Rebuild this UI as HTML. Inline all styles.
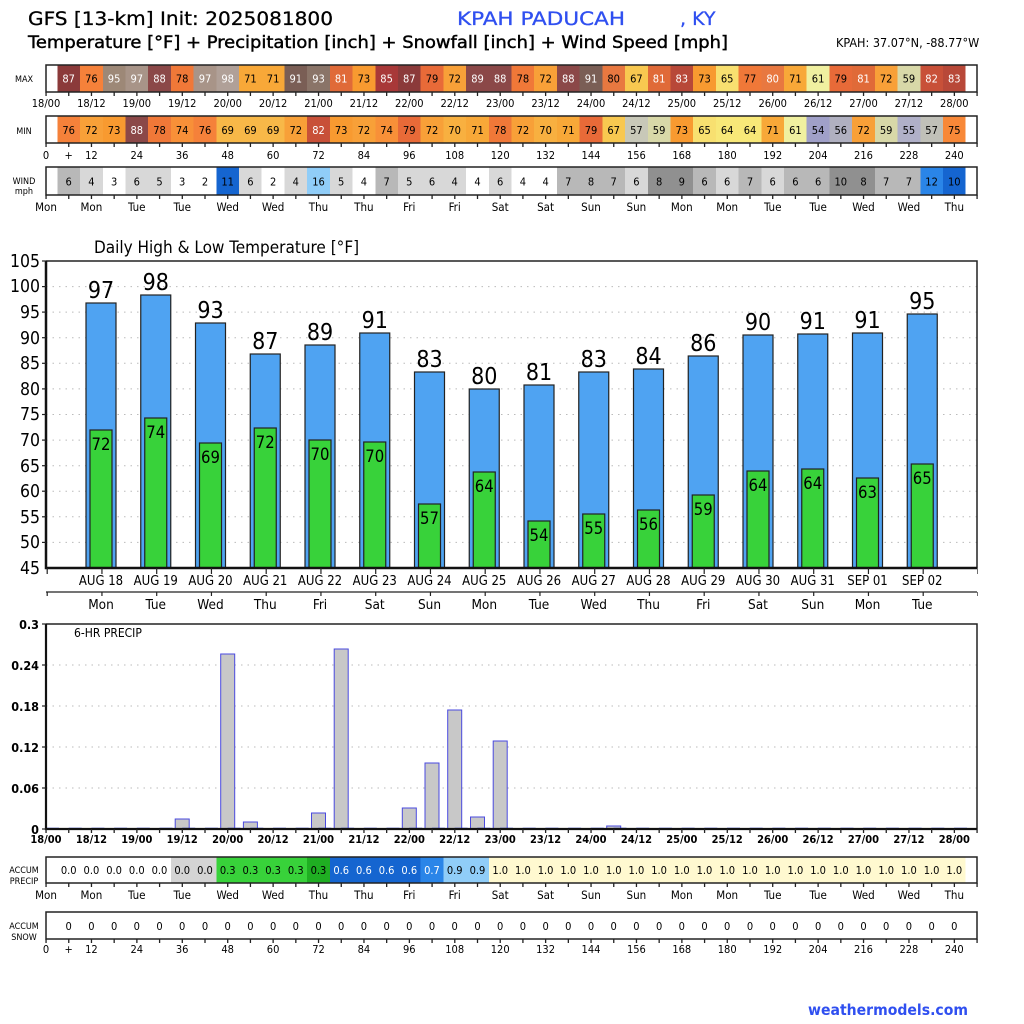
<!DOCTYPE html>
<html><head><meta charset="utf-8"><style>
body{margin:0;background:#fff}
svg{display:block}
text{font-family:"DejaVu Sans Condensed","DejaVu Sans","Liberation Sans",sans-serif}
.h{font-family:"DejaVu Sans","Liberation Sans",sans-serif}
</style></head><body>
<svg width="1024" height="1024" viewBox="0 0 1024 1024" xmlns="http://www.w3.org/2000/svg">
<!-- header -->
<text class="h" x="28" y="25" font-size="19" stroke="#000" stroke-width="0.3" textLength="305" lengthAdjust="spacingAndGlyphs">GFS [13-km] Init: 2025081800</text>
<text class="h" x="457" y="25" font-size="19" fill="#2f4ff0" stroke="#2f4ff0" stroke-width="0.3" textLength="168" lengthAdjust="spacingAndGlyphs">KPAH PADUCAH</text>
<text class="h" x="680" y="25" font-size="19" fill="#2f4ff0" stroke="#2f4ff0" stroke-width="0.3">, KY</text>
<text class="h" x="28" y="48" font-size="17" stroke="#000" stroke-width="0.45" textLength="700" lengthAdjust="spacingAndGlyphs">Temperature [°F] + Precipitation [inch] + Snowfall [inch] + Wind Speed [mph]</text>
<text x="836" y="47" font-size="12.5">KPAH: 37.07°N, -88.77°W</text>

<!-- row labels -->
<g font-size="9" text-anchor="middle">
<text x="24" y="82">MAX</text>
<text x="24" y="134">MIN</text>
<text x="24" y="184">WIND</text><text x="24" y="194">mph</text>
<text x="24" y="873">ACCUM</text><text x="24" y="884">PRECIP</text>
<text x="24" y="929">ACCUM</text><text x="24" y="940">SNOW</text>
</g>

<!-- MAX strip -->
<g transform="translate(34.646,65) scale(22.708,1)" shape-rendering="crispEdges">
<rect x="1" width="1" height="27" fill="#8b3a3a"/><rect x="2" width="1" height="27" fill="#f5813a"/><rect x="3" width="1" height="27" fill="#9d8877"/><rect x="4" width="1" height="27" fill="#a89488"/><rect x="5" width="1" height="27" fill="#8b4848"/><rect x="6" width="1" height="27" fill="#f07838"/><rect x="7" width="1" height="27" fill="#a89488"/><rect x="8" width="1" height="27" fill="#b0a098"/><rect x="9" width="1" height="27" fill="#f8a838"/><rect x="10" width="1" height="27" fill="#f8a838"/><rect x="11" width="1" height="27" fill="#7a5e55"/><rect x="12" width="1" height="27" fill="#8a7468"/><rect x="13" width="1" height="27" fill="#e06a38"/><rect x="14" width="1" height="27" fill="#f89a30"/><rect x="15" width="1" height="27" fill="#a83838"/><rect x="16" width="1" height="27" fill="#8b3a3a"/><rect x="17" width="1" height="27" fill="#e86a38"/><rect x="18" width="1" height="27" fill="#f8a038"/><rect x="19" width="1" height="27" fill="#8b4848"/><rect x="20" width="1" height="27" fill="#8b4848"/><rect x="21" width="1" height="27" fill="#f07838"/><rect x="22" width="1" height="27" fill="#f8a038"/><rect x="23" width="1" height="27" fill="#8b4848"/><rect x="24" width="1" height="27" fill="#7a5e55"/><rect x="25" width="1" height="27" fill="#e87840"/><rect x="26" width="1" height="27" fill="#f8c850"/><rect x="27" width="1" height="27" fill="#e06a38"/><rect x="28" width="1" height="27" fill="#b84838"/><rect x="29" width="1" height="27" fill="#f89a30"/><rect x="30" width="1" height="27" fill="#f8e070"/><rect x="31" width="1" height="27" fill="#f07838"/><rect x="32" width="1" height="27" fill="#e87840"/><rect x="33" width="1" height="27" fill="#f8a838"/><rect x="34" width="1" height="27" fill="#f0f0a0"/><rect x="35" width="1" height="27" fill="#e86a38"/><rect x="36" width="1" height="27" fill="#e06a38"/><rect x="37" width="1" height="27" fill="#f8a038"/><rect x="38" width="1" height="27" fill="#d8d8a8"/><rect x="39" width="1" height="27" fill="#c85038"/><rect x="40" width="1" height="27" fill="#b84838"/>
</g>
<text y="82.5" text-anchor="middle" font-size="11"><tspan x="68.7" fill="#fff">87</tspan><tspan x="91.4" fill="#000">76</tspan><tspan x="114.1" fill="#fff">95</tspan><tspan x="136.8" fill="#fff">97</tspan><tspan x="159.5" fill="#fff">88</tspan><tspan x="182.2" fill="#000">78</tspan><tspan x="205" fill="#fff">97</tspan><tspan x="227.7" fill="#fff">98</tspan><tspan x="250.4" fill="#000">71</tspan><tspan x="273.1">71</tspan><tspan x="295.8" fill="#fff">91</tspan><tspan x="318.5" fill="#fff">93</tspan><tspan x="341.2" fill="#fff">81</tspan><tspan x="363.9" fill="#000">73</tspan><tspan x="386.6" fill="#fff">85</tspan><tspan x="409.3" fill="#fff">87</tspan><tspan x="432" fill="#000">79</tspan><tspan x="454.7">72</tspan><tspan x="477.5" fill="#fff">89</tspan><tspan x="500.2" fill="#fff">88</tspan><tspan x="522.9" fill="#000">78</tspan><tspan x="545.6">72</tspan><tspan x="568.3" fill="#fff">88</tspan><tspan x="591" fill="#fff">91</tspan><tspan x="613.7" fill="#000">80</tspan><tspan x="636.4">67</tspan><tspan x="659.1" fill="#fff">81</tspan><tspan x="681.8" fill="#fff">83</tspan><tspan x="704.5" fill="#000">73</tspan><tspan x="727.2">65</tspan><tspan x="750">77</tspan><tspan x="772.7" fill="#fff">80</tspan><tspan x="795.4" fill="#000">71</tspan><tspan x="818.1">61</tspan><tspan x="840.8">79</tspan><tspan x="863.5" fill="#fff">81</tspan><tspan x="886.2" fill="#000">72</tspan><tspan x="908.9">59</tspan><tspan x="931.6" fill="#fff">82</tspan><tspan x="954.3" fill="#fff">83</tspan></text>
<rect x="46" y="65" width="931" height="27" fill="none" stroke="#222" stroke-width="1.5"/>
<line x1="45.4" y1="94" x2="978" y2="94" stroke="#222" stroke-width="4" stroke-dasharray="1.3 21.408"/>
<text y="107" text-anchor="middle" font-size="11"><tspan x="46">18/00</tspan><tspan x="91.4">18/12</tspan><tspan x="136.8">19/00</tspan><tspan x="182.2">19/12</tspan><tspan x="227.7">20/00</tspan><tspan x="273.1">20/12</tspan><tspan x="318.5">21/00</tspan><tspan x="363.9">21/12</tspan><tspan x="409.3">22/00</tspan><tspan x="454.7">22/12</tspan><tspan x="500.2">23/00</tspan><tspan x="545.6">23/12</tspan><tspan x="591">24/00</tspan><tspan x="636.4">24/12</tspan><tspan x="681.8">25/00</tspan><tspan x="727.2">25/12</tspan><tspan x="772.7">26/00</tspan><tspan x="818.1">26/12</tspan><tspan x="863.5">27/00</tspan><tspan x="908.9">27/12</tspan><tspan x="954.3">28/00</tspan></text>

<!-- MIN strip -->
<g transform="translate(34.646,116) scale(22.708,1)" shape-rendering="crispEdges">
<rect x="1" width="1" height="27" fill="#f5813a"/><rect x="2" width="1" height="27" fill="#f8a038"/><rect x="3" width="1" height="27" fill="#f89a30"/><rect x="4" width="1" height="27" fill="#8b4848"/><rect x="5" width="1" height="27" fill="#f07838"/><rect x="6" width="1" height="27" fill="#f89038"/><rect x="7" width="1" height="27" fill="#f5813a"/><rect x="8" width="1" height="27" fill="#f8b848"/><rect x="9" width="1" height="27" fill="#f8b848"/><rect x="10" width="1" height="27" fill="#f8b848"/><rect x="11" width="1" height="27" fill="#f8a038"/><rect x="12" width="1" height="27" fill="#c85038"/><rect x="13" width="1" height="27" fill="#f89a30"/><rect x="14" width="1" height="27" fill="#f8a038"/><rect x="15" width="1" height="27" fill="#f89038"/><rect x="16" width="1" height="27" fill="#e86a38"/><rect x="17" width="1" height="27" fill="#f8a038"/><rect x="18" width="1" height="27" fill="#f8b040"/><rect x="19" width="1" height="27" fill="#f8a838"/><rect x="20" width="1" height="27" fill="#f07838"/><rect x="21" width="1" height="27" fill="#f8a038"/><rect x="22" width="1" height="27" fill="#f8b040"/><rect x="23" width="1" height="27" fill="#f8a838"/><rect x="24" width="1" height="27" fill="#e86a38"/><rect x="25" width="1" height="27" fill="#f8c850"/><rect x="26" width="1" height="27" fill="#c8c8b8"/><rect x="27" width="1" height="27" fill="#d8d8a8"/><rect x="28" width="1" height="27" fill="#f89a30"/><rect x="29" width="1" height="27" fill="#f8e070"/><rect x="30" width="1" height="27" fill="#f8e878"/><rect x="31" width="1" height="27" fill="#f8e878"/><rect x="32" width="1" height="27" fill="#f8a838"/><rect x="33" width="1" height="27" fill="#f0f0a0"/><rect x="34" width="1" height="27" fill="#a0a0c8"/><rect x="35" width="1" height="27" fill="#b0b0c0"/><rect x="36" width="1" height="27" fill="#f8a038"/><rect x="37" width="1" height="27" fill="#d8d8a8"/><rect x="38" width="1" height="27" fill="#b0b0c8"/><rect x="39" width="1" height="27" fill="#c0c0b8"/><rect x="40" width="1" height="27" fill="#f88838"/>
</g>
<text y="134" text-anchor="middle" font-size="11"><tspan x="68.7">76</tspan><tspan x="91.4">72</tspan><tspan x="114.1">73</tspan><tspan x="136.8" fill="#fff">88</tspan><tspan x="159.5" fill="#000">78</tspan><tspan x="182.2">74</tspan><tspan x="205">76</tspan><tspan x="227.7">69</tspan><tspan x="250.4">69</tspan><tspan x="273.1">69</tspan><tspan x="295.8">72</tspan><tspan x="318.5" fill="#fff">82</tspan><tspan x="341.2" fill="#000">73</tspan><tspan x="363.9">72</tspan><tspan x="386.6">74</tspan><tspan x="409.3">79</tspan><tspan x="432">72</tspan><tspan x="454.7">70</tspan><tspan x="477.5">71</tspan><tspan x="500.2">78</tspan><tspan x="522.9">72</tspan><tspan x="545.6">70</tspan><tspan x="568.3">71</tspan><tspan x="591">79</tspan><tspan x="613.7">67</tspan><tspan x="636.4">57</tspan><tspan x="659.1">59</tspan><tspan x="681.8">73</tspan><tspan x="704.5">65</tspan><tspan x="727.2">64</tspan><tspan x="750">64</tspan><tspan x="772.7">71</tspan><tspan x="795.4">61</tspan><tspan x="818.1">54</tspan><tspan x="840.8">56</tspan><tspan x="863.5">72</tspan><tspan x="886.2">59</tspan><tspan x="908.9">55</tspan><tspan x="931.6">57</tspan><tspan x="954.3">75</tspan></text>
<rect x="46" y="116" width="931" height="27" fill="none" stroke="#222" stroke-width="1.5"/>
<line x1="45.4" y1="145" x2="978" y2="145" stroke="#222" stroke-width="4" stroke-dasharray="1.3 21.408"/>
<text y="159" text-anchor="middle" font-size="11"><tspan x="46">0</tspan><tspan x="68.7">+</tspan><tspan x="91.4">12</tspan><tspan x="136.8">24</tspan><tspan x="182.2">36</tspan><tspan x="227.7">48</tspan><tspan x="273.1">60</tspan><tspan x="318.5">72</tspan><tspan x="363.9">84</tspan><tspan x="409.3">96</tspan><tspan x="454.7">108</tspan><tspan x="500.2">120</tspan><tspan x="545.6">132</tspan><tspan x="591">144</tspan><tspan x="636.4">156</tspan><tspan x="681.8">168</tspan><tspan x="727.2">180</tspan><tspan x="772.7">192</tspan><tspan x="818.1">204</tspan><tspan x="863.5">216</tspan><tspan x="908.9">228</tspan><tspan x="954.3">240</tspan></text>

<!-- WIND strip -->
<g transform="translate(34.646,167) scale(22.708,1)" shape-rendering="crispEdges">
<rect x="1" width="1" height="28" fill="#b8b8b8"/><rect x="2" width="1" height="28" fill="#d8d8d8"/><rect x="4" width="1" height="28" fill="#d8d8d8"/><rect x="5" width="1" height="28" fill="#d8d8d8"/><rect x="8" width="1" height="28" fill="#1565d0"/><rect x="9" width="1" height="28" fill="#d8d8d8"/><rect x="11" width="1" height="28" fill="#d8d8d8"/><rect x="12" width="1" height="28" fill="#90cdf8"/><rect x="13" width="1" height="28" fill="#d8d8d8"/><rect x="15" width="1" height="28" fill="#b8b8b8"/><rect x="16" width="1" height="28" fill="#d8d8d8"/><rect x="17" width="1" height="28" fill="#d8d8d8"/><rect x="18" width="1" height="28" fill="#d8d8d8"/><rect x="20" width="1" height="28" fill="#d8d8d8"/><rect x="23" width="1" height="28" fill="#b8b8b8"/><rect x="24" width="1" height="28" fill="#b8b8b8"/><rect x="25" width="1" height="28" fill="#b8b8b8"/><rect x="26" width="1" height="28" fill="#d8d8d8"/><rect x="27" width="1" height="28" fill="#909090"/><rect x="28" width="1" height="28" fill="#909090"/><rect x="29" width="1" height="28" fill="#b8b8b8"/><rect x="30" width="1" height="28" fill="#d8d8d8"/><rect x="31" width="1" height="28" fill="#b8b8b8"/><rect x="32" width="1" height="28" fill="#d8d8d8"/><rect x="33" width="1" height="28" fill="#b8b8b8"/><rect x="34" width="1" height="28" fill="#b8b8b8"/><rect x="35" width="1" height="28" fill="#909090"/><rect x="36" width="1" height="28" fill="#909090"/><rect x="37" width="1" height="28" fill="#b8b8b8"/><rect x="38" width="1" height="28" fill="#b8b8b8"/><rect x="39" width="1" height="28" fill="#2a85e8"/><rect x="40" width="1" height="28" fill="#1565d0"/>
</g>
<text y="185.5" text-anchor="middle" font-size="11"><tspan x="68.7">6</tspan><tspan x="91.4">4</tspan><tspan x="114.1">3</tspan><tspan x="136.8">6</tspan><tspan x="159.5">5</tspan><tspan x="182.2">3</tspan><tspan x="205">2</tspan><tspan x="227.7">11</tspan><tspan x="250.4">6</tspan><tspan x="273.1">2</tspan><tspan x="295.8">4</tspan><tspan x="318.5">16</tspan><tspan x="341.2">5</tspan><tspan x="363.9">4</tspan><tspan x="386.6">7</tspan><tspan x="409.3">5</tspan><tspan x="432">6</tspan><tspan x="454.7">4</tspan><tspan x="477.5">4</tspan><tspan x="500.2">6</tspan><tspan x="522.9">4</tspan><tspan x="545.6">4</tspan><tspan x="568.3">7</tspan><tspan x="591">8</tspan><tspan x="613.7">7</tspan><tspan x="636.4">6</tspan><tspan x="659.1">8</tspan><tspan x="681.8">9</tspan><tspan x="704.5">6</tspan><tspan x="727.2">6</tspan><tspan x="750">7</tspan><tspan x="772.7">6</tspan><tspan x="795.4">6</tspan><tspan x="818.1">6</tspan><tspan x="840.8">10</tspan><tspan x="863.5">8</tspan><tspan x="886.2">7</tspan><tspan x="908.9">7</tspan><tspan x="931.6">12</tspan><tspan x="954.3">10</tspan></text>
<rect x="46" y="167" width="931" height="28" fill="none" stroke="#222" stroke-width="1.5"/>
<line x1="45.4" y1="197" x2="978" y2="197" stroke="#222" stroke-width="4" stroke-dasharray="1.3 21.408"/>
<text y="211" text-anchor="middle" font-size="11.5"><tspan x="46">Mon</tspan><tspan x="91.4">Mon</tspan><tspan x="136.8">Tue</tspan><tspan x="182.2">Tue</tspan><tspan x="227.7">Wed</tspan><tspan x="273.1">Wed</tspan><tspan x="318.5">Thu</tspan><tspan x="363.9">Thu</tspan><tspan x="409.3">Fri</tspan><tspan x="454.7">Fri</tspan><tspan x="500.2">Sat</tspan><tspan x="545.6">Sat</tspan><tspan x="591">Sun</tspan><tspan x="636.4">Sun</tspan><tspan x="681.8">Mon</tspan><tspan x="727.2">Mon</tspan><tspan x="772.7">Tue</tspan><tspan x="818.1">Tue</tspan><tspan x="863.5">Wed</tspan><tspan x="908.9">Wed</tspan><tspan x="954.3">Thu</tspan></text>

<!-- TEMPERATURE CHART -->
<text x="94" y="253" font-size="17">Daily High &amp; Low Temperature [°F]</text>
<g stroke="#bbb" stroke-width="1" stroke-dasharray="1.5 5">
<line x1="46" x2="977" y1="542.4" y2="542.4"/><line x1="46" x2="977" y1="516.8" y2="516.8"/><line x1="46" x2="977" y1="491.2" y2="491.2"/><line x1="46" x2="977" y1="465.7" y2="465.7"/><line x1="46" x2="977" y1="440.1" y2="440.1"/><line x1="46" x2="977" y1="414.5" y2="414.5"/><line x1="46" x2="977" y1="388.9" y2="388.9"/><line x1="46" x2="977" y1="363.3" y2="363.3"/><line x1="46" x2="977" y1="337.7" y2="337.7"/><line x1="46" x2="977" y1="312.1" y2="312.1"/><line x1="46" x2="977" y1="286.6" y2="286.6"/>
</g>
<g font-size="17.5" text-anchor="end">
<text x="40" y="574">45</text><text x="40" y="548">50</text><text x="40" y="523">55</text><text x="40" y="497">60</text><text x="40" y="472">65</text><text x="40" y="446">70</text><text x="40" y="420">75</text><text x="40" y="395">80</text><text x="40" y="369">85</text><text x="40" y="344">90</text><text x="40" y="318">95</text><text x="40" y="292">100</text><text x="40" y="267">105</text>
</g>
<g fill="#4fa3f2" stroke="#222" stroke-width="1.2">
<rect x="86" y="303" width="30" height="265"/><rect x="140.75" y="295" width="30" height="273"/><rect x="195.5" y="323" width="30" height="245"/><rect x="250.25" y="354" width="30" height="214"/><rect x="305" y="345" width="30" height="223"/><rect x="359.75" y="333" width="30" height="235"/><rect x="414.5" y="372" width="30" height="196"/><rect x="469.25" y="389" width="30" height="179"/><rect x="524" y="385" width="30" height="183"/><rect x="578.75" y="372" width="30" height="196"/><rect x="633.5" y="369" width="30" height="199"/><rect x="688.25" y="356" width="30" height="212"/><rect x="743" y="335" width="30" height="233"/><rect x="797.75" y="334" width="30" height="234"/><rect x="852.5" y="333" width="30" height="235"/><rect x="907.25" y="314" width="30" height="254"/>
</g>
<g fill="#38d23a" stroke="#222" stroke-width="1.2">
<rect x="90" y="430" width="22" height="138"/><rect x="144.75" y="418" width="22" height="150"/><rect x="199.5" y="443" width="22" height="125"/><rect x="254.25" y="428" width="22" height="140"/><rect x="309" y="440" width="22" height="128"/><rect x="363.75" y="442" width="22" height="126"/><rect x="418.5" y="504" width="22" height="64"/><rect x="473.25" y="472" width="22" height="96"/><rect x="528" y="521" width="22" height="47"/><rect x="582.75" y="514" width="22" height="54"/><rect x="637.5" y="510" width="22" height="58"/><rect x="692.25" y="495" width="22" height="73"/><rect x="747" y="471" width="22" height="97"/><rect x="801.75" y="469" width="22" height="99"/><rect x="856.5" y="478" width="22" height="90"/><rect x="911.25" y="464" width="22" height="104"/>
</g>
<g font-size="23" text-anchor="middle">
<text x="101" y="298">97</text><text x="155.75" y="290">98</text><text x="210.5" y="318">93</text><text x="265.25" y="349">87</text><text x="320" y="340">89</text><text x="374.75" y="328">91</text><text x="429.5" y="367">83</text><text x="484.25" y="384">80</text><text x="539" y="380">81</text><text x="593.75" y="367">83</text><text x="648.5" y="364">84</text><text x="703.25" y="351">86</text><text x="758" y="330">90</text><text x="812.75" y="329">91</text><text x="867.5" y="328">91</text><text x="922.25" y="309">95</text>
</g>
<g font-size="16.5" text-anchor="middle">
<text x="101" y="450">72</text><text x="155.75" y="438">74</text><text x="210.5" y="463">69</text><text x="265.25" y="448">72</text><text x="320" y="460">70</text><text x="374.75" y="462">70</text><text x="429.5" y="524">57</text><text x="484.25" y="492">64</text><text x="539" y="541">54</text><text x="593.75" y="534">55</text><text x="648.5" y="530">56</text><text x="703.25" y="515">59</text><text x="758" y="491">64</text><text x="812.75" y="489">64</text><text x="867.5" y="498">63</text><text x="922.25" y="484">65</text>
</g>
<path d="M46 261H977V568" fill="none" stroke="#222" stroke-width="1.5"/>
<path d="M46 261V568H977" fill="none" stroke="#111" stroke-width="2.5"/>
<g stroke="#222" stroke-width="1.2"><line x1="42" x2="46" y1="261" y2="261"/><line x1="42" x2="46" y1="286.6" y2="286.6"/><line x1="42" x2="46" y1="312.1" y2="312.1"/><line x1="42" x2="46" y1="337.7" y2="337.7"/><line x1="42" x2="46" y1="363.3" y2="363.3"/><line x1="42" x2="46" y1="388.9" y2="388.9"/><line x1="42" x2="46" y1="414.5" y2="414.5"/><line x1="42" x2="46" y1="440.1" y2="440.1"/><line x1="42" x2="46" y1="465.7" y2="465.7"/><line x1="42" x2="46" y1="491.2" y2="491.2"/><line x1="42" x2="46" y1="516.8" y2="516.8"/><line x1="42" x2="46" y1="542.4" y2="542.4"/></g>
<line x1="46.6" y1="571" x2="978" y2="571" stroke="#222" stroke-width="6" stroke-dasharray="1.2 53.55"/>
<g font-size="13" text-anchor="middle">
<text x="101" y="585">AUG 18</text><text x="155.75" y="585">AUG 19</text><text x="210.5" y="585">AUG 20</text><text x="265.25" y="585">AUG 21</text><text x="320" y="585">AUG 22</text><text x="374.75" y="585">AUG 23</text><text x="429.5" y="585">AUG 24</text><text x="484.25" y="585">AUG 25</text><text x="539" y="585">AUG 26</text><text x="593.75" y="585">AUG 27</text><text x="648.5" y="585">AUG 28</text><text x="703.25" y="585">AUG 29</text><text x="758" y="585">AUG 30</text><text x="812.75" y="585">AUG 31</text><text x="867.5" y="585">SEP 01</text><text x="922.25" y="585">SEP 02</text>
</g>
<line x1="46" y1="592" x2="977" y2="592" stroke="#222" stroke-width="1.2"/>
<line x1="46.6" y1="594" x2="978" y2="594" stroke="#222" stroke-width="4" stroke-dasharray="1.2 53.55"/>
<g font-size="13.5" text-anchor="middle">
<text x="101" y="609">Mon</text><text x="155.75" y="609">Tue</text><text x="210.5" y="609">Wed</text><text x="265.25" y="609">Thu</text><text x="320" y="609">Fri</text><text x="374.75" y="609">Sat</text><text x="429.5" y="609">Sun</text><text x="484.25" y="609">Mon</text><text x="539" y="609">Tue</text><text x="593.75" y="609">Wed</text><text x="648.5" y="609">Thu</text><text x="703.25" y="609">Fri</text><text x="758" y="609">Sat</text><text x="812.75" y="609">Sun</text><text x="867.5" y="609">Mon</text><text x="922.25" y="609">Tue</text>
</g>

<!-- PRECIP CHART -->
<g stroke="#bbb" stroke-width="1" stroke-dasharray="1.5 5">
<line x1="46" x2="977" y1="788" y2="788"/><line x1="46" x2="977" y1="747" y2="747"/><line x1="46" x2="977" y1="706" y2="706"/><line x1="46" x2="977" y1="665" y2="665"/>
</g>
<g font-size="12.5" font-weight="bold" text-anchor="end">
<text x="39" y="629">0.3</text><text x="39" y="670">0.24</text><text x="39" y="711">0.18</text><text x="39" y="752">0.12</text><text x="39" y="793">0.06</text><text x="39" y="834">0</text>
</g>
<text x="74" y="637" font-size="12">6-HR PRECIP</text>
<g fill="#c8c8c8" stroke="#4a4adf" stroke-width="1">
<rect x="175.2" y="819" width="14" height="10"/><rect x="220.7" y="654" width="14" height="175"/><rect x="243.4" y="822" width="14" height="7"/><rect x="311.5" y="813" width="14" height="16"/><rect x="334.2" y="649" width="14" height="180"/><rect x="402.3" y="808" width="14" height="21"/><rect x="425" y="763" width="14" height="66"/><rect x="447.7" y="710" width="14" height="119"/><rect x="470.5" y="817" width="14" height="12"/><rect x="493.2" y="741" width="14" height="88"/><rect x="606.7" y="826" width="14" height="3"/>
</g>
<line x1="46" y1="828.5" x2="977" y2="828.5" stroke="#3344ee" stroke-width="1.5" stroke-dasharray="13 9.7"/>
<path d="M46 624H977V829" fill="none" stroke="#222" stroke-width="1.5"/>
<path d="M46 624V829H977" fill="none" stroke="#111" stroke-width="2.2"/>
<g stroke="#222" stroke-width="1.2"><line x1="42" x2="46" y1="624" y2="624"/><line x1="42" x2="46" y1="665" y2="665"/><line x1="42" x2="46" y1="706" y2="706"/><line x1="42" x2="46" y1="747" y2="747"/><line x1="42" x2="46" y1="788" y2="788"/><line x1="42" x2="46" y1="829" y2="829"/></g>
<line x1="45.4" y1="831" x2="978" y2="831" stroke="#222" stroke-width="4" stroke-dasharray="1.3 21.408"/>
<text y="843" text-anchor="middle" font-size="11" font-weight="bold"><tspan x="46">18/00</tspan><tspan x="91.4">18/12</tspan><tspan x="136.8">19/00</tspan><tspan x="182.2">19/12</tspan><tspan x="227.7">20/00</tspan><tspan x="273.1">20/12</tspan><tspan x="318.5">21/00</tspan><tspan x="363.9">21/12</tspan><tspan x="409.3">22/00</tspan><tspan x="454.7">22/12</tspan><tspan x="500.2">23/00</tspan><tspan x="545.6">23/12</tspan><tspan x="591">24/00</tspan><tspan x="636.4">24/12</tspan><tspan x="681.8">25/00</tspan><tspan x="727.2">25/12</tspan><tspan x="772.7">26/00</tspan><tspan x="818.1">26/12</tspan><tspan x="863.5">27/00</tspan><tspan x="908.9">27/12</tspan><tspan x="954.3">28/00</tspan></text>

<!-- ACCUM PRECIP -->
<g transform="translate(34.646,857) scale(22.708,1)" shape-rendering="crispEdges">
<rect x="6" width="2" height="26" fill="#d4d4d4"/><rect x="8" width="4" height="26" fill="#38d23a"/><rect x="12" width="1" height="26" fill="#1fae22"/><rect x="13" width="4" height="26" fill="#1565d0"/><rect x="17" width="1" height="26" fill="#2a85e8"/><rect x="18" width="2" height="26" fill="#90cdf8"/><rect x="20" width="21" height="26" fill="#fff9d0"/>
</g>
<text y="874" text-anchor="middle" font-size="11"><tspan x="68.7">0.0</tspan><tspan x="91.4">0.0</tspan><tspan x="114.1">0.0</tspan><tspan x="136.8">0.0</tspan><tspan x="159.5">0.0</tspan><tspan x="182.2">0.0</tspan><tspan x="205">0.0</tspan><tspan x="227.7">0.3</tspan><tspan x="250.4">0.3</tspan><tspan x="273.1">0.3</tspan><tspan x="295.8">0.3</tspan><tspan x="318.5">0.3</tspan><tspan x="341.2" fill="#fff">0.6</tspan><tspan x="363.9" fill="#fff">0.6</tspan><tspan x="386.6" fill="#fff">0.6</tspan><tspan x="409.3" fill="#fff">0.6</tspan><tspan x="432" fill="#fff">0.7</tspan><tspan x="454.7" fill="#000">0.9</tspan><tspan x="477.5">0.9</tspan><tspan x="500.2">1.0</tspan><tspan x="522.9">1.0</tspan><tspan x="545.6">1.0</tspan><tspan x="568.3">1.0</tspan><tspan x="591">1.0</tspan><tspan x="613.7">1.0</tspan><tspan x="636.4">1.0</tspan><tspan x="659.1">1.0</tspan><tspan x="681.8">1.0</tspan><tspan x="704.5">1.0</tspan><tspan x="727.2">1.0</tspan><tspan x="750">1.0</tspan><tspan x="772.7">1.0</tspan><tspan x="795.4">1.0</tspan><tspan x="818.1">1.0</tspan><tspan x="840.8">1.0</tspan><tspan x="863.5">1.0</tspan><tspan x="886.2">1.0</tspan><tspan x="908.9">1.0</tspan><tspan x="931.6">1.0</tspan><tspan x="954.3">1.0</tspan></text>
<rect x="46" y="857" width="931" height="26" fill="none" stroke="#222" stroke-width="1.5"/>
<line x1="45.4" y1="885" x2="978" y2="885" stroke="#222" stroke-width="4" stroke-dasharray="1.3 21.408"/>
<text y="899" text-anchor="middle" font-size="11.5"><tspan x="46">Mon</tspan><tspan x="91.4">Mon</tspan><tspan x="136.8">Tue</tspan><tspan x="182.2">Tue</tspan><tspan x="227.7">Wed</tspan><tspan x="273.1">Wed</tspan><tspan x="318.5">Thu</tspan><tspan x="363.9">Thu</tspan><tspan x="409.3">Fri</tspan><tspan x="454.7">Fri</tspan><tspan x="500.2">Sat</tspan><tspan x="545.6">Sat</tspan><tspan x="591">Sun</tspan><tspan x="636.4">Sun</tspan><tspan x="681.8">Mon</tspan><tspan x="727.2">Mon</tspan><tspan x="772.7">Tue</tspan><tspan x="818.1">Tue</tspan><tspan x="863.5">Wed</tspan><tspan x="908.9">Wed</tspan><tspan x="954.3">Thu</tspan></text>

<!-- ACCUM SNOW -->
<text y="930" text-anchor="middle" font-size="11"><tspan x="68.7">0</tspan><tspan x="91.4">0</tspan><tspan x="114.1">0</tspan><tspan x="136.8">0</tspan><tspan x="159.5">0</tspan><tspan x="182.2">0</tspan><tspan x="205">0</tspan><tspan x="227.7">0</tspan><tspan x="250.4">0</tspan><tspan x="273.1">0</tspan><tspan x="295.8">0</tspan><tspan x="318.5">0</tspan><tspan x="341.2">0</tspan><tspan x="363.9">0</tspan><tspan x="386.6">0</tspan><tspan x="409.3">0</tspan><tspan x="432">0</tspan><tspan x="454.7">0</tspan><tspan x="477.5">0</tspan><tspan x="500.2">0</tspan><tspan x="522.9">0</tspan><tspan x="545.6">0</tspan><tspan x="568.3">0</tspan><tspan x="591">0</tspan><tspan x="613.7">0</tspan><tspan x="636.4">0</tspan><tspan x="659.1">0</tspan><tspan x="681.8">0</tspan><tspan x="704.5">0</tspan><tspan x="727.2">0</tspan><tspan x="750">0</tspan><tspan x="772.7">0</tspan><tspan x="795.4">0</tspan><tspan x="818.1">0</tspan><tspan x="840.8">0</tspan><tspan x="863.5">0</tspan><tspan x="886.2">0</tspan><tspan x="908.9">0</tspan><tspan x="931.6">0</tspan><tspan x="954.3">0</tspan></text>
<rect x="46" y="912" width="931" height="27" fill="none" stroke="#222" stroke-width="1.5"/>
<line x1="45.4" y1="941" x2="978" y2="941" stroke="#222" stroke-width="4" stroke-dasharray="1.3 21.408"/>
<text y="953" text-anchor="middle" font-size="11"><tspan x="46">0</tspan><tspan x="68.7">+</tspan><tspan x="91.4">12</tspan><tspan x="136.8">24</tspan><tspan x="182.2">36</tspan><tspan x="227.7">48</tspan><tspan x="273.1">60</tspan><tspan x="318.5">72</tspan><tspan x="363.9">84</tspan><tspan x="409.3">96</tspan><tspan x="454.7">108</tspan><tspan x="500.2">120</tspan><tspan x="545.6">132</tspan><tspan x="591">144</tspan><tspan x="636.4">156</tspan><tspan x="681.8">168</tspan><tspan x="727.2">180</tspan><tspan x="772.7">192</tspan><tspan x="818.1">204</tspan><tspan x="863.5">216</tspan><tspan x="908.9">228</tspan><tspan x="954.3">240</tspan></text>

<text x="808" y="1015" font-size="15.5" font-weight="bold" fill="#2f4ff0" textLength="160" lengthAdjust="spacingAndGlyphs">weathermodels.com</text>
</svg>
</body></html>
